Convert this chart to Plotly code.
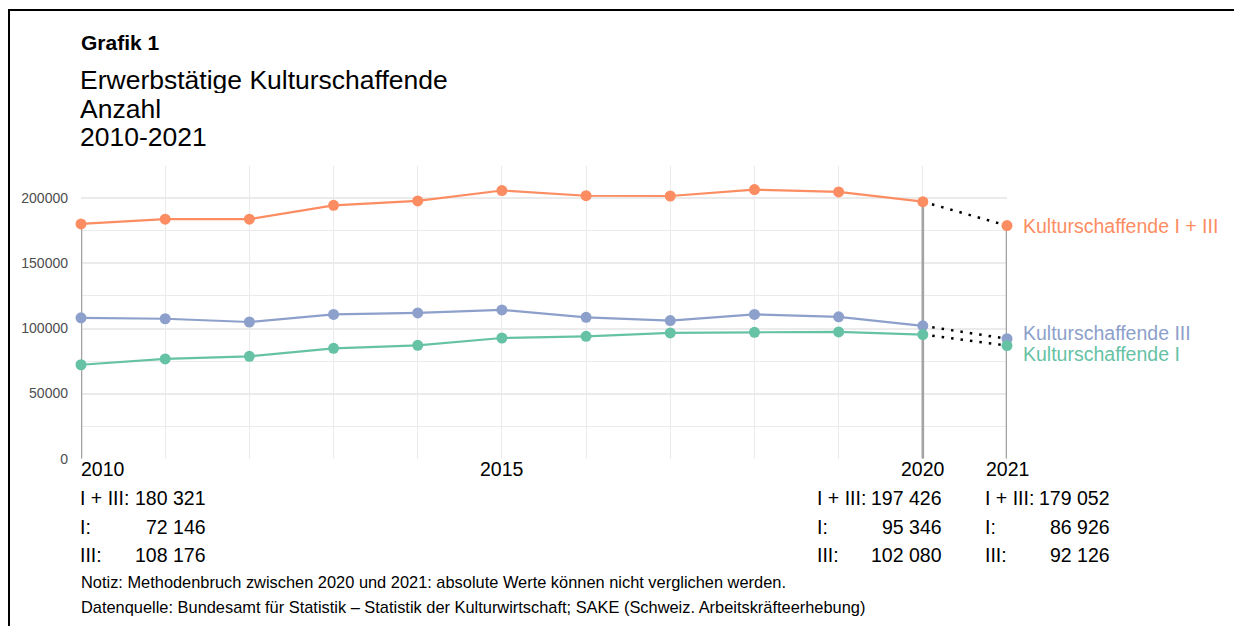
import plotly.graph_objects as go

# ---------------- data ----------------
years = list(range(2010, 2022))
total_i_iii = [180321, 184000, 184000, 194600, 198000, 206000, 202000, 201800, 206700, 204900, 197426, 179052]
kultur_i = [72146, 76600, 78600, 84800, 87100, 92700, 94000, 96600, 97100, 97400, 95346, 86926]
kultur_iii = [108176, 107500, 105000, 110800, 112000, 114300, 108600, 106100, 110800, 109000, 102080, 92126]

series_names = ["Kulturschaffende I + III", "Kulturschaffende III", "Kulturschaffende I"]
series_values = [total_i_iii, kultur_iii, kultur_i]
series_colors = ["#FC8D62", "#8DA0CB", "#66C2A5"]
label_shift = [0, 6, -8]

break_year = 2020
highlight_years = [2010, 2020, 2021]
y_ticks = [0, 50000, 100000, 150000, 200000]
x_tick_labels = [2010, 2015, 2020, 2021]

title_lines = ["Erwerbstätige Kulturschaffende", "Anzahl", "2010-2021"]
note = "Notiz: Methodenbruch zwischen 2020 und 2021: absolute Werte können nicht verglichen werden."
source = "Datenquelle: Bundesamt für Statistik – Statistik der Kulturwirtschaft; SAKE (Schweiz. Arbeitskräfteerhebung)"

FONT = "Arial, Liberation Sans, sans-serif"
OFF = 8  # page body margin
VIEW_H = 642
S = 633 / VIEW_H
W, H = 1242 - OFF, VIEW_H - 2 * OFF


def fy(ref_pix):
    return ref_pix / S - OFF


def py(ref_pix):
    return 1 - fy(ref_pix) / H


def px(pix):
    return (pix - OFF) / W


def fmt(v):
    return f"{v:,}".replace(",", " ")


PX_L, PX_R = 81 - OFF, 1007 - OFF

fig = go.Figure()

bi = years.index(break_year)

# gray vertical reference lines
for yr in highlight_years:
    v = total_i_iii[years.index(yr)]
    fig.add_trace(go.Scatter(x=[yr, yr], y=[0, v], mode="lines",
                             line=dict(color="#A3A3A3", width=2.6),
                             hoverinfo="skip", showlegend=False, cliponaxis=False))

for name, vals, col in zip(series_names, series_values, series_colors):
    # dotted connection across method break
    fig.add_trace(go.Scatter(x=years[bi:], y=vals[bi:], mode="lines",
                             line=dict(color="black", width=2.5, dash="2.5px,7px"),
                             hoverinfo="skip", showlegend=False, cliponaxis=False))
    fig.add_trace(go.Scatter(x=years[:bi + 1], y=vals[:bi + 1], mode="lines+markers",
                             line=dict(color=col, width=2.2),
                             marker=dict(color=col, size=11),
                             name=name, showlegend=False, cliponaxis=False))
    fig.add_trace(go.Scatter(x=years[bi + 1:], y=vals[bi + 1:], mode="markers",
                             marker=dict(color=col, size=11),
                             name=name, showlegend=False, cliponaxis=False))

ann = []
# series labels at right
for name, vals, col, sh in zip(series_names, series_values, series_colors, label_shift):
    ann.append(dict(x=years[-1], y=vals[-1], xref="x", yref="y", text=name,
                    xanchor="left", yanchor="middle", xshift=15, yshift=sh, borderpad=0,
                    showarrow=False, font=dict(family=FONT, size=19.5, color=col)))

# x tick labels
for yr in x_tick_labels:
    ann.append(dict(x=yr, y=py(468), xref="x", yref="paper", text=str(yr),
                    xanchor="left" if yr == years[0] else "center", yanchor="middle",
                    xshift=-2 if yr == years[0] else 0,
                    showarrow=False, font=dict(family=FONT, size=19.5, color="black")))

# value tables under the axis
col_offsets = {2010: (-3, 127), 2020: (-108, 21), 2021: (-24, 105)}
row_y = [497, 526, 554]
row_labels = ["I + III:", "I:", "III:"]
row_series = [total_i_iii, kultur_i, kultur_iii]
for yr in highlight_years:
    i = years.index(yr)
    lo, ro = col_offsets[yr]
    for ry, lab, ser in zip(row_y, row_labels, row_series):
        ann.append(dict(x=yr, y=py(ry), xref="x", yref="paper", text=lab,
                        xanchor="left", yanchor="middle", xshift=lo, showarrow=False,
                        font=dict(family=FONT, size=19.5, color="black")))
        ann.append(dict(x=yr, y=py(ry), xref="x", yref="paper", text=fmt(ser[i]),
                        xanchor="right", yanchor="middle", xshift=ro, showarrow=False,
                        font=dict(family=FONT, size=19.5, color="black")))

# notes
for txt, ry in [(note, 581), (source, 606)]:
    ann.append(dict(x=px(79), y=py(ry), xref="paper", yref="paper", text=txt,
                    xanchor="left", yanchor="middle", showarrow=False,
                    font=dict(family=FONT, size=16.4, color="black")))

# titles
ann.append(dict(x=px(79), y=py(42), xref="paper", yref="paper", text="<b>Grafik 1</b>",
                xanchor="left", yanchor="middle", showarrow=False,
                font=dict(family=FONT, size=21, color="black")))
for txt, ry in zip(title_lines, [79, 108, 136]):
    ann.append(dict(x=px(79), y=py(ry), xref="paper", yref="paper", text=txt,
                    xanchor="left", yanchor="middle", showarrow=False, borderpad=0,
                    height=27, valign="middle",
                    font=dict(family=FONT, size=26.5, color="black")))

fig.update_layout(
    width=W, height=H,
    margin=dict(l=0, r=0, t=0, b=0),
    paper_bgcolor="white", plot_bgcolor="white",
    annotations=ann,
    shapes=[
        dict(type="line", xref="paper", yref="paper", x0=px(8), x1=1, y0=py(10), y1=py(10),
             line=dict(color="black", width=2)),
        dict(type="line", xref="paper", yref="paper", x0=px(9), x1=px(9), y0=py(10), y1=0,
             line=dict(color="black", width=2)),
    ],
    xaxis=dict(domain=[PX_L / W, PX_R / W], range=[years[0], years[-1]],
               tickvals=years, showticklabels=False, ticks="",
               showgrid=True, gridcolor="#EBEBEB", gridwidth=1.2,
               zeroline=False, showline=False, fixedrange=True),
    yaxis=dict(domain=[py(458), py(166)], range=[0, 224600],
               tickvals=y_ticks, ticktext=[str(v) for v in y_ticks], ticks="",
               ticklabelstandoff=12,
               tickfont=dict(family=FONT, size=14, color="#4D4D4D"),
               showgrid=True, gridcolor="#EBEBEB", gridwidth=2,
               minor=dict(dtick=25000, tick0=0, showgrid=True, gridcolor="#EBEBEB", gridwidth=1.2),
               zeroline=False, showline=False, fixedrange=True),
)

fig.write_html("out.html")
